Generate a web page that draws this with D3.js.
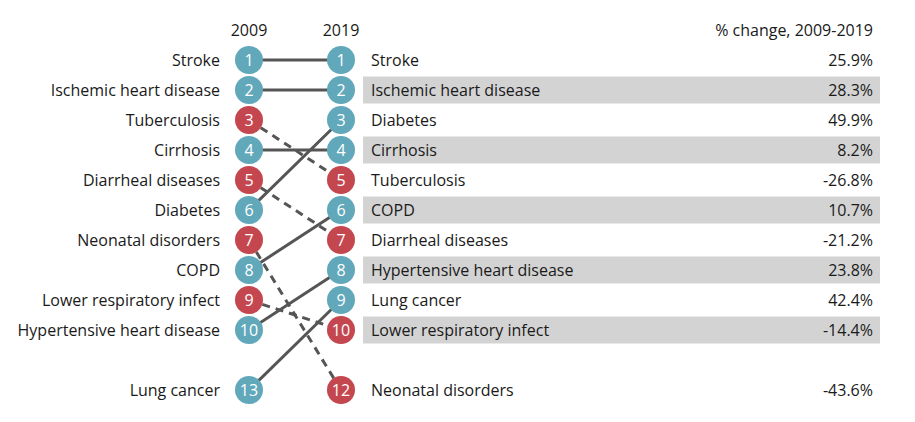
<!DOCTYPE html>
<html><head><meta charset="utf-8">
<script src="https://cdn.jsdelivr.net/npm/d3@7"></script>
<style>body{margin:0;background:#fff;} text{font-family:"Open Sans",sans-serif;}</style>
</head><body>
<svg id="c" width="915" height="422"></svg>
<script>
const causes = ["Stroke","Ischemic heart disease","Tuberculosis","Cirrhosis","Diarrheal diseases","Diabetes","Neonatal disorders","COPD","Lower respiratory infect","Hypertensive heart disease","Lung cancer"];
const rank2009 = [1,2,3,4,5,6,7,8,9,10,13];
const rank2019 = [1,2,5,4,7,3,12,6,10,8,9];
const pctChange = [25.9,28.3,-26.8,8.2,-21.2,49.9,-43.6,10.7,-14.4,23.8,42.4];
const years = ["2009","2019"];
const header = "% change, 2009-2019";

const data = causes.map((c,i)=>({cause:c,r09:rank2009[i],r19:rank2019[i],pct:pctChange[i]}));
const svg = d3.select("#c");
const blue = "#62a8bb", red = "#c4474f";
const fs = 16;
// rows beyond 10 share one slot after a gap
const slot = r => r <= 10 ? r : 12;
const y = d3.scaleLinear().domain([0,12]).range([30,390]);
const x = d3.scalePoint().domain(years).range([249,341]);

// headers
svg.selectAll("text.yr").data(years).join("text").attr("class","yr")
  .attr("x",d=>x(d)).attr("y",y(0)).attr("dy","0.35em").attr("text-anchor","middle")
  .attr("font-size",fs).attr("fill","#1a1a1a").text(d=>d);
svg.append("text").attr("x",873).attr("y",y(0)).attr("dy","0.35em").attr("text-anchor","end")
  .attr("font-size",fs).attr("fill","#1a1a1a").text(header);

// gray bands
svg.selectAll("rect.band").data(data.filter(d=>d.r19<=10 && d.r19%2===0)).join("rect").attr("class","band")
  .attr("x",363).attr("width",517).attr("y",d=>y(slot(d.r19))-13.5).attr("height",27).attr("fill","#d3d3d3");

// lines
svg.selectAll("line.link").data(data).join("line").attr("class","link")
  .attr("x1",x("2009")).attr("x2",x("2019"))
  .attr("y1",d=>y(slot(d.r09))).attr("y2",d=>y(slot(d.r19)))
  .attr("stroke","#555").attr("stroke-width",3)
  .attr("stroke-dasharray",d=>d.pct<0?"8,6":null);

// circles
const col = d => d.pct<0?red:blue;
["2009","2019"].forEach(yr=>{
  const key = yr==="2009"?"r09":"r19";
  const g = svg.append("g");
  g.selectAll("circle").data(data).join("circle")
    .attr("cx",x(yr)).attr("cy",d=>y(slot(d[key]))).attr("r",14).attr("fill",col);
  g.selectAll("text").data(data).join("text")
    .attr("x",x(yr)).attr("y",d=>y(slot(d[key]))).attr("dy","0.36em").attr("text-anchor","middle")
    .attr("font-size",fs).attr("fill","#fff").text(d=>d[key]);
});

// left labels
svg.selectAll("text.left").data(data).join("text").attr("class","left")
  .attr("x",220).attr("y",d=>y(slot(d.r09))).attr("dy","0.35em").attr("text-anchor","end")
  .attr("font-size",fs).attr("fill","#1a1a1a").text(d=>d.cause);
// right labels
svg.selectAll("text.right").data(data).join("text").attr("class","right")
  .attr("x",371).attr("y",d=>y(slot(d.r19))).attr("dy","0.35em")
  .attr("font-size",fs).attr("fill","#1a1a1a").text(d=>d.cause);
svg.selectAll("text.pct").data(data).join("text").attr("class","pct")
  .attr("x",873).attr("y",d=>y(slot(d.r19))).attr("dy","0.35em").attr("text-anchor","end")
  .attr("font-size",fs).attr("fill","#1a1a1a").text(d=>d.pct.toFixed(1)+"%");
</script>
</body></html>
